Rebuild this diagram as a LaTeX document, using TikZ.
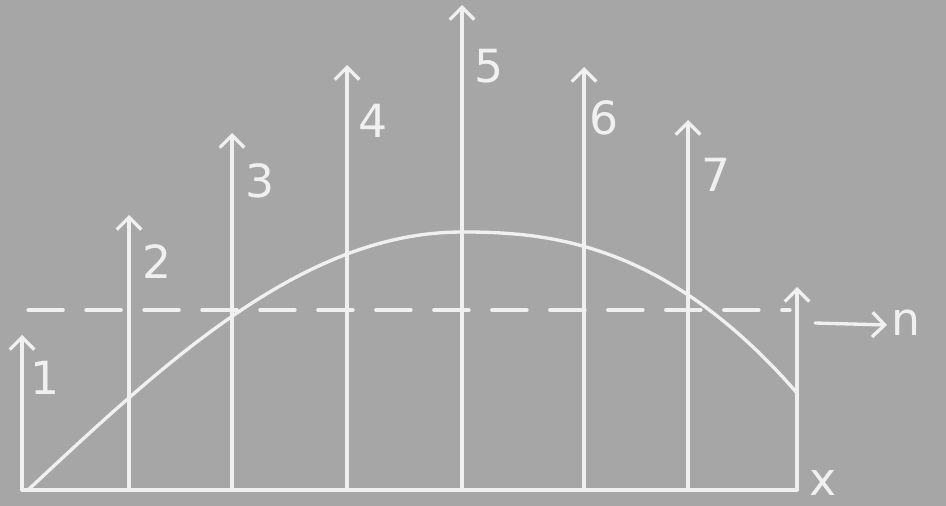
\documentclass[tikz,border=0pt]{standalone}
\usepackage{fontspec}
\setmainfont{DejaVu Sans}
\usetikzlibrary{arrows.meta,positioning}

\begin{document}
\begin{tikzpicture}[
  x=0.02cm, y=-0.02cm,
  chalk/.style={draw=white!94!black, line width=1.9pt, line cap=round, line join=round},
  vec/.style={chalk, -{Straight Barb[length=7pt, width=14pt, line width=1.9pt]}},
  num/.style={text=white!94!black, font=\fontsize{26}{26}\selectfont, inner sep=0pt}
]
\fill[gray!70] (0,0) rectangle (946,506);
\useasboundingbox (0,0) rectangle (946,506);

% baseline
\coordinate (o) at (22,490);
\coordinate (e) at (797,490);
\draw[chalk] (o) -- (e);
\node[num] (xlab) at (823,483) {x};

% vertical vectors
\foreach \i/\xx/\top/\lx/\ly in {1/22/335/45/378, 2/129/215/157/262, 3/232/133/260/181,
    4/347/65/373/121, 5/462/5/489/66, 6/584/67/604/118, 7/688/120/716/175} {
  \coordinate (b\i) at (\xx,490);
  \coordinate (t\i) at (\xx,\top);
  \draw[vec] (b\i) -- (t\i);
  \node[num] (l\i) at (\lx,\ly) {\i};
}
\coordinate (b8) at (797,490);
\coordinate (t8) at (797,287);
\draw[vec] (b8) -- (t8);

% mean level
\coordinate (d0) at (28,310);
\coordinate (d1) at (790,310);
\draw[chalk, dash pattern=on 20pt off 13pt] (d0) -- (d1);

% direction of n
\coordinate (n0) at (815,323);
\coordinate (n1) at (887,325);
\draw[vec] (n0) -- (n1);
\node[num] (nlab) at (906,323) {n};

% envelope
\draw[chalk] plot[domain=28:462, samples=60] (\x,{490-258*sin((\x-28)/434*90)})
  -- plot[domain=463:797, samples=50] (\x,{232+161*((\x-462)/335)^2.39});
\end{tikzpicture}
\end{document}
